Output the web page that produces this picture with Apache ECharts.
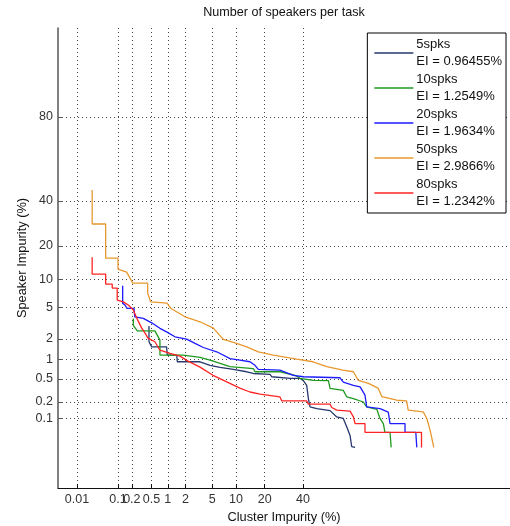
<!DOCTYPE html>
<html>
<head>
  <meta charset="utf-8">
  <title>Number of speakers per task</title>
</head>
<body style="margin: 0; background: #fff;">
  <div id="container" style="width: 510px; height: 526px;"></div>

  <script src="https://cdn.jsdelivr.net/npm/echarts@6/dist/echarts.min.js"></script>

  <script type="text/javascript">
    // tick labels (percent)
    const xTicks = [0.01, 0.1, 0.2, 0.5, 1, 2, 5, 10, 20, 40];
    const yTicks = [0.1, 0.2, 0.5, 1, 2, 5, 10, 20, 40, 80];

    // curves: cluster impurity (%) / speaker impurity (%)
    const cluster5 = [0.446, 0.446, 0.503, 0.95, 0.98, 1.43, 1.46, 3.34, 4.66, 6.35, 9.3, 13.2, 15.5, 22.4, 23.2, 32.6, 38.2, 40.2, 42.2, 43.2, 44.2, 48.3, 56.4, 60.4, 64.2, 66.2, 68, 68.9, 70.7];
    const speaker5 = [2.95, 1.82, 1.54, 1.54, 1.17, 1.17, 0.93, 0.93, 0.82, 0.76, 0.71, 0.65, 0.61, 0.59, 0.54, 0.51, 0.51, 0.466, 0.39, 0.23, 0.163, 0.152, 0.139, 0.106, 0.099, 0.068, 0.046, 0.027, 0.026];

    const cluster10 = [0.215, 0.215, 0.26, 0.58, 0.72, 0.72, 1.84, 3.34, 4.66, 6.35, 8.5, 15.5, 16.1, 27.2, 35.4, 38.2, 46.2, 55.4, 56.4, 64.2, 66.2, 69.8, 74.9, 76.5, 81, 82.3, 83.6, 84.2, 86, 86.4];
    const speaker10 = [3.67, 3.01, 2.56, 2.56, 1.92, 1.17, 1.17, 1.08, 0.985, 0.88, 0.78, 0.73, 0.65, 0.65, 0.57, 0.51, 0.47, 0.466, 0.345, 0.32, 0.246, 0.23, 0.20, 0.163, 0.147, 0.099, 0.079, 0.053, 0.053, 0.026];

    const cluster20 = [0.127, 0.127, 0.143, 0.158, 0.222, 0.23, 0.345, 0.503, 0.72, 0.95, 1.33, 2.08, 2.81, 3.74, 5.74, 8.5, 11.1, 14.3, 16.1, 17.4, 27.2, 34.4, 40.2, 62.3, 64.2, 69.8, 73.3, 75.7, 76.5, 82.3, 85.4, 86, 90.5, 90.5, 93, 93.2];
    const speaker20 = [8.66, 5.57, 5.33, 4.88, 4.88, 3.86, 3.69, 3.25, 2.76, 2.48, 2.13, 1.98, 1.73, 1.51, 1.31, 1.04, 0.985, 0.93, 0.82, 0.71, 0.69, 0.57, 0.54, 0.52, 0.44, 0.39, 0.367, 0.264, 0.163, 0.152, 0.131, 0.079, 0.079, 0.053, 0.053, 0.026];

    const cluster50 = [0.0245, 0.0245, 0.052, 0.052, 0.10, 0.10, 0.155, 0.21, 0.42, 0.42, 0.48, 0.97, 1.12, 1.96, 3.34, 5.17, 7.0, 10.2, 13.2, 17.4, 23.9, 36.3, 46, 54.4, 64, 69.8, 72.4, 77.3, 81.5, 83, 88.2, 90.9, 91.3, 94.4, 95, 95.5, 95.8, 96];
    const speaker50 = [45.5, 28.9, 28.9, 15.8, 15.8, 12.6, 11.8, 9.2, 9.2, 7.25, 5.8, 5.6, 4.9, 3.86, 3.35, 2.78, 1.96, 1.73, 1.54, 1.31, 1.17, 1.02, 0.93, 0.78, 0.69, 0.65, 0.47, 0.42, 0.35, 0.25, 0.215, 0.21, 0.142, 0.132, 0.099, 0.058, 0.037, 0.026];

    const cluster80 = [0.0245, 0.0245, 0.052, 0.052, 0.074, 0.074, 0.096, 0.096, 0.131, 0.168, 0.215, 0.265, 0.32, 0.373, 0.427, 0.58, 0.72, 1.09, 1.62, 2.19, 3.34, 5.12, 7.74, 11.1, 14.3, 18.1, 27.2, 28.1, 42.2, 43.2, 56.4, 57.4, 60.4, 68, 69.8, 70.7, 75.7, 75.7, 94.1, 94.1];
    const speaker80 = [16.1, 11.3, 11.3, 9.0, 9.0, 8.2, 8.2, 6.07, 5.8, 5.33, 4.66, 3.51, 2.78, 2.39, 2.04, 1.82, 1.38, 1.24, 1.13, 0.95, 0.77, 0.57, 0.445, 0.35, 0.30, 0.275, 0.246, 0.21, 0.21, 0.183, 0.183, 0.159, 0.142, 0.136, 0.106, 0.079, 0.079, 0.053, 0.053, 0.026];

    const names = ['5spks\nEI = 0.96455%', '10spks\nEI = 1.2549%', '20spks\nEI = 1.9634%', '50spks\nEI = 2.9866%', '80spks\nEI = 1.2342%'];
    const colors = ['#26386e', '#1f9a1f', '#1c1cff', '#e8982f', '#ff2424'];

    // inverse normal CDF (Acklam), used as the probit (DET) scale
    function probit(p) {
      const a = [-39.69683028665376, 220.9460984245205, -275.9285104469687, 138.3577518672690, -30.66479806614716, 2.506628277459239];
      const b = [-54.47609879822406, 161.5858368580409, -155.6989798598866, 66.80131188771972, -13.28068155288572];
      const c = [-0.007784894002430293, -0.3223964580411365, -2.400758277161838, -2.549732539343734, 4.374664141464968, 2.938163982698783];
      const d = [0.007784695709041462, 0.3224671290700398, 2.445134137142996, 3.754408661907416];
      const pl = 0.02425;
      let q, r;
      if (p < pl) {
        q = Math.sqrt(-2 * Math.log(p));
        return (((((c[0]*q+c[1])*q+c[2])*q+c[3])*q+c[4])*q+c[5]) / ((((d[0]*q+d[1])*q+d[2])*q+d[3])*q+1);
      } else if (p <= 1 - pl) {
        q = p - 0.5; r = q * q;
        return (((((a[0]*r+a[1])*r+a[2])*r+a[3])*r+a[4])*r+a[5])*q / (((((b[0]*r+b[1])*r+b[2])*r+b[3])*r+b[4])*r+1);
      }
      q = Math.sqrt(-2 * Math.log(1 - p));
      return -(((((c[0]*q+c[1])*q+c[2])*q+c[3])*q+c[4])*q+c[5]) / ((((d[0]*q+d[1])*q+d[2])*q+d[3])*q+1);
    }
    const pct = v => probit(v / 100);

    function tickName(ticks) {
      return function (v) {
        let best = ticks[0];
        ticks.forEach(t => { if (Math.abs(pct(t) - v) < Math.abs(pct(best) - v)) best = t; });
        return String(best);
      };
    }

    const curves = [[cluster5, speaker5], [cluster10, speaker10], [cluster20, speaker20], [cluster50, speaker50], [cluster80, speaker80]];

    const dom = document.getElementById('container');
    const myChart = echarts.init(dom, null, { renderer: 'canvas' });

    const font = 'Arial, "Liberation Sans", sans-serif';

    const option = {
      animation: false,
      textStyle: { fontFamily: font },
      graphic: [{
        type: 'text', x: 284, y: 13,
        style: { text: 'Number of speakers per task', font: '12.6px ' + font, fill: '#111', textAlign: 'center', textVerticalAlign: 'middle' }
      }],
      grid: { left: 58, right: 0, top: 28, bottom: 38, containLabel: false, outerBoundsMode: 'none' },
      legend: {
        right: 4, top: 33,
        orient: 'vertical',
        data: names,
        icon: 'rect',
        backgroundColor: '#fff',
        borderColor: '#000',
        borderWidth: 1,
        borderRadius: 0,
        padding: [3, 4, 3, 7],
        itemGap: 1,
        itemWidth: 39,
        itemHeight: 1.3,
        textStyle: { fontSize: 13, lineHeight: 17, color: '#111', padding: [0, 0, 0, -2] }
      },
      xAxis: {
        type: 'value',
        min: -4.01, max: 2.92,
        name: 'Cluster Impurity (%)',
        nameLocation: 'middle',
        nameGap: 23,
        nameMoveOverlap: false,
        nameTextStyle: { fontSize: 12.8, color: '#111' },
        axisLine: { onZero: false, lineStyle: { color: '#111', width: 1 } },
        axisTick: { inside: true, length: 4, customValues: xTicks.map(pct), lineStyle: { color: '#111' } },
        axisLabel: { customValues: xTicks.map(pct), formatter: tickName(xTicks), fontSize: 12.5, color: '#333', margin: 5 },
        splitLine: { show: true, lineStyle: { color: '#444', type: [1, 3], width: 1 } }
      },
      yAxis: {
        type: 'value',
        min: -4.0, max: 2.0,
        name: 'Speaker Impurity (%)',
        nameLocation: 'middle',
        nameGap: 29,
        nameMoveOverlap: false,
        nameTextStyle: { fontSize: 12.8, color: '#111' },
        axisLine: { show: true, onZero: false, lineStyle: { color: '#555', width: 1.5 } },
        axisTick: { show: true, inside: true, length: 5, customValues: yTicks.map(pct), lineStyle: { color: '#555' } },
        axisLabel: { customValues: yTicks.map(pct), formatter: tickName(yTicks), fontSize: 12.5, color: '#333', margin: 5 },
        splitLine: { show: true, lineStyle: { color: '#444', type: [1, 3], width: 1 } }
      },
      series: curves.map((c, i) => ({
        type: 'line',
        name: names[i],
        showSymbol: false,
        symbol: 'none',
        color: colors[i],
        lineStyle: { width: 1.3, color: colors[i] },
        data: c[0].map((x, k) => [pct(x), pct(c[1][k])])
      }))
    };

    myChart.setOption(option);
    window.addEventListener('resize', myChart.resize);
  </script>
</body>
</html>
